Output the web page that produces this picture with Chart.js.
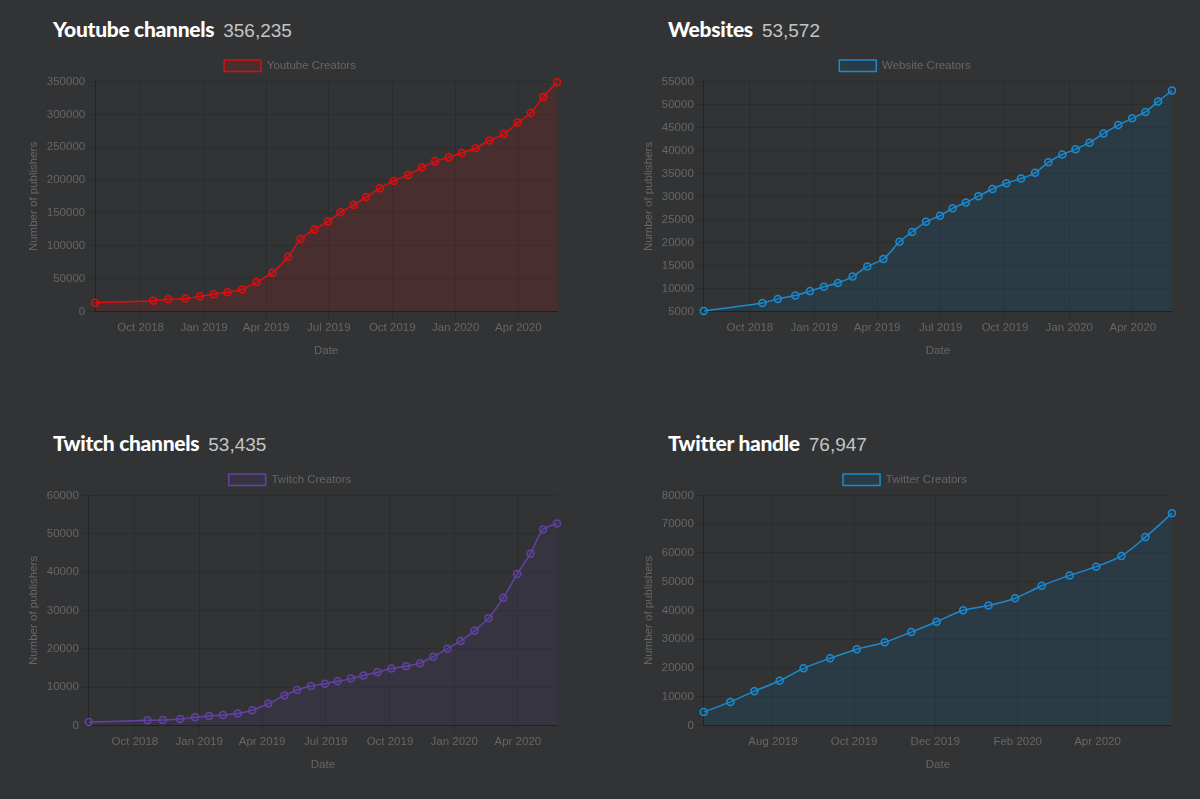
<!DOCTYPE html>
<html>
<head>
<meta charset="utf-8">
<script src="https://cdn.jsdelivr.net/npm/chart.js@4.4.1/dist/chart.umd.min.js"></script>
<style>
    body { margin: 0; background: #323335; width: 1200px; height: 799px; overflow: hidden; }
    .titulo { position: absolute; margin: 0; white-space: nowrap; font-weight: normal; }
    .titulo b { font-family: "Lato", sans-serif; font-weight: 900; font-size: 21px; color: #fff; letter-spacing: -0.3px; }
    .titulo span { font-family: "Liberation Sans", Arial, sans-serif; font-weight: normal; font-size: 19px; color: #c4c4c4; margin-left: 9px; }
    canvas { position: absolute; }
</style>
</head>
<body>

<h2 class="titulo" style="left:53px; top:16px;"><b>Youtube channels</b><span>356,235</span></h2>
<h2 class="titulo" style="left:668px; top:16px;"><b>Websites</b><span>53,572</span></h2>
<h2 class="titulo" style="left:53px; top:430px;"><b>Twitch channels</b><span>53,435</span></h2>
<h2 class="titulo" style="left:668px; top:430px;"><b>Twitter handle</b><span>76,947</span></h2>

<canvas id="graficoYoutube" width="544" height="312" style="left:23px; top:50px;"></canvas>
<canvas id="graficoWebsites" width="544" height="312" style="left:638px; top:50px;"></canvas>
<canvas id="graficoTwitch" width="544" height="312" style="left:23px; top:464px;"></canvas>
<canvas id="graficoTwitter" width="544" height="312" style="left:638px; top:464px;"></canvas>

<script>
// fechas de las muestras (iguales para youtube, websites y twitch)
const fechas = ["2018-07-27", "2018-10-19", "2018-11-10", "2018-12-05", "2018-12-26", "2019-01-15",
    "2019-02-04", "2019-02-25", "2019-03-18", "2019-04-10", "2019-05-03", "2019-05-21", "2019-06-10",
    "2019-06-30", "2019-07-18", "2019-08-06", "2019-08-24", "2019-09-13", "2019-10-03", "2019-10-24",
    "2019-11-13", "2019-12-02", "2019-12-22", "2020-01-10", "2020-01-30", "2020-02-19", "2020-03-11",
    "2020-03-31", "2020-04-19", "2020-05-07", "2020-05-27"];

const fechasTwitter = ["2019-06-10", "2019-06-30", "2019-07-18", "2019-08-06", "2019-08-24", "2019-09-13",
    "2019-10-03", "2019-10-24", "2019-11-13", "2019-12-02", "2019-12-22", "2020-01-10", "2020-01-30",
    "2020-02-19", "2020-03-11", "2020-03-31", "2020-04-19", "2020-05-07", "2020-05-27"];

const youtubeValores = [13300, 16400, 18500, 19500, 23100, 26200, 29300, 33400, 44600, 59000, 83100,
    110300, 124700, 137000, 150900, 162200, 174000, 187300, 198600, 207800, 219100, 228400, 234500,
    241200, 248400, 260200, 269900, 287400, 302300, 326400, 349000];

const websitesValores = [5100, 6840, 7720, 8460, 9410, 10370, 11180, 12570, 14780, 16400, 20150, 22280,
    24490, 25810, 27430, 28680, 30070, 31620, 32870, 33900, 35150, 37430, 39120, 40290, 41690, 43680,
    45520, 46990, 48380, 50660, 53020];

const twitchValores = [880, 1320, 1410, 1670, 2110, 2460, 2720, 3080, 3950, 5710, 7820, 9220, 10280,
    10890, 11510, 12210, 13000, 13880, 14850, 15460, 16250, 17920, 20030, 22050, 24690, 28020, 33290,
    39530, 44800, 51130, 52710];

const twitterValores = [4670, 8180, 11910, 15530, 19850, 23360, 26510, 28960, 32470, 36090, 40060,
    41690, 44260, 48580, 52200, 55240, 58980, 65520, 73810];

// marcas del eje x
const ticksTrimestre = ["2018-10-01", "2019-01-01", "2019-04-01", "2019-07-01", "2019-10-01", "2020-01-01", "2020-04-01"];
const ticksTwitter = ["2019-08-01", "2019-10-01", "2019-12-01", "2020-02-01", "2020-04-01"];

const meses = ["Jan", "Feb", "Mar", "Apr", "May", "Jun", "Jul", "Aug", "Sep", "Oct", "Nov", "Dec"];

function aTiempo(s) {
    const p = s.split("-").map(Number);
    return Date.UTC(p[0], p[1] - 1, p[2]);
}

function etiquetaMes(v) {
    const d = new Date(v);
    return meses[d.getUTCMonth()] + " " + d.getUTCFullYear();
}

Chart.defaults.font.family = "'Helvetica Neue', Helvetica, 'Liberation Sans', Arial, sans-serif";
Chart.defaults.font.size = 11.5;
Chart.defaults.color = "#666";

function crearGrafico(id, etiqueta, fechasSerie, valores, marcas, linea, relleno, yMin, yMax, paso) {
    const ctx = document.getElementById(id).getContext("2d");
    const puntos = fechasSerie.map((f, i) => ({ x: aTiempo(f), y: valores[i] }));
    const marcasX = marcas.map(aTiempo);

    new Chart(ctx, {
        type: "line",
        data: {
            datasets: [{
                label: etiqueta,
                data: puntos,
                borderColor: linea,
                backgroundColor: relleno,
                borderWidth: 1.5,
                pointRadius: 3.5,
                pointBorderWidth: 1.5,
                pointBackgroundColor: relleno,
                pointBorderColor: linea,
                tension: 0.3,
                fill: true,
                clip: 6
            }]
        },
        options: {
            responsive: false,
            animation: false,
            layout: { padding: { right: 10 } },
            plugins: {
                legend: {
                    labels: { boxWidth: 37, boxHeight: 11.5, color: "#666", font: { size: 11.5 } }
                },
                tooltip: { enabled: false }
            },
            scales: {
                x: {
                    type: "linear",
                    min: puntos[0].x,
                    max: puntos[puntos.length - 1].x,
                    afterBuildTicks: (eje) => {
                        eje.ticks = marcasX.map(v => ({ value: v }));
                    },
                    ticks: {
                        autoSkip: false,
                        maxRotation: 0,
                        padding: 2,
                        color: "#666",
                        callback: (v) => etiquetaMes(v)
                    },
                    grid: { color: "rgba(0,0,0,0.12)", tickLength: 8 },
                    border: { color: "rgba(0,0,0,0.3)" },
                    title: { display: true, text: "Date", color: "#666", padding: { top: 7, bottom: 4 } }
                },
                y: {
                    min: yMin,
                    max: yMax,
                    ticks: { stepSize: paso, padding: 2, color: "#666", callback: (v) => String(v) },
                    grid: { color: "rgba(0,0,0,0.12)", tickLength: 8 },
                    border: { color: "rgba(0,0,0,0.3)" },
                    title: { display: true, text: "Number of publishers", color: "#666" }
                }
            }
        }
    });
}

crearGrafico("graficoYoutube", "Youtube Creators", fechas, youtubeValores, ticksTrimestre,
    "#e00d0d", "rgba(220,20,20,0.14)", 0, 350000, 50000);
crearGrafico("graficoWebsites", "Website Creators", fechas, websitesValores, ticksTrimestre,
    "#1b8bd0", "rgba(10,110,170,0.15)", 5000, 55000, 5000);
crearGrafico("graficoTwitch", "Twitch Creators", fechas, twitchValores, ticksTrimestre,
    "#6441a5", "rgba(100,65,165,0.12)", 0, 60000, 10000);
crearGrafico("graficoTwitter", "Twitter Creators", fechasTwitter, twitterValores, ticksTwitter,
    "#1b8bd0", "rgba(10,110,170,0.15)", 0, 80000, 10000);
</script>
</body>
</html>
